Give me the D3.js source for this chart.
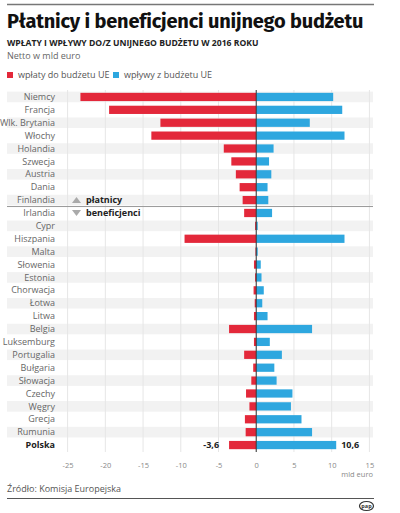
<!DOCTYPE html>
<html><head><meta charset="utf-8">
<script src="https://cdn.jsdelivr.net/npm/d3@7/dist/d3.min.js"></script>
<style>
html,body{margin:0;padding:0;background:#fff;}
svg{display:block;font-family:"Open Sans","Noto Sans",sans-serif;}
</style></head>
<body>
<script>
const countries = ["Niemcy","Francja","Wlk. Brytania","Włochy","Holandia","Szwecja","Austria","Dania","Finlandia","Irlandia","Cypr","Hiszpania","Malta","Słowenia","Estonia","Chorwacja","Łotwa","Litwa","Belgia","Luksemburg","Portugalia","Bułgaria","Słowacja","Czechy","Węgry","Grecja","Rumunia","Polska"];
const payments = [-23.3,-19.5,-12.7,-13.9,-4.3,-3.3,-2.7,-2.2,-1.8,-1.6,-0.15,-9.5,-0.1,-0.3,-0.15,-0.35,-0.2,-0.3,-3.6,-0.3,-1.6,-0.4,-0.65,-1.35,-0.9,-1.5,-1.4,-3.6];
const receipts = [10.2,11.4,7.1,11.7,2.3,1.7,2.0,1.5,1.6,2.1,0.2,11.7,0.2,0.6,0.7,1.0,0.8,1.5,7.4,1.8,3.4,2.4,2.7,4.8,4.6,6.0,7.4,10.6];
const tickValues = [-25,-20,-15,-10,-5,0,5,10,15];
const legendLabels = ["wpłaty do budżetu UE","wpływy z budżetu UE"];
const groupLabels = ["płatnicy","beneficjenci"];

const W = 400, H = 513;
const RED = "#e3283a", BLUE = "#2ea7df";
const svg = d3.select("body").append("svg").attr("width", W).attr("height", H);

const x = d3.scaleLinear().domain([-25, 15]).range([67.6, 369.4]);
const y = d3.scaleBand().domain(countries).range([90.5, 451.5]).paddingInner(0.36).paddingOuter(0.18);

// top rule
svg.append("line").attr("x1", 7).attr("x2", 374).attr("y1", 4.5).attr("y2", 4.5).attr("stroke", "#777").attr("stroke-width", 1.5);

svg.append("text").attr("x", 7).attr("y", 27.5).attr("font-size", 20).attr("font-weight", 700).attr("fill", "#111")
  .attr("font-family", "'Fira Sans','Open Sans',sans-serif").attr("letter-spacing", -0.2)
  .text("Płatnicy i beneficjenci unijnego budżetu");
svg.append("text").attr("x", 7).attr("y", 46).attr("font-size", 8.6).attr("font-weight", 700).attr("fill", "#222")
  .text("WPŁATY I WPŁYWY DO/Z UNIJNEGO BUDŻETU W 2016 ROKU");
svg.append("text").attr("x", 7).attr("y", 58.5).attr("font-size", 9).attr("fill", "#666").text("Netto w mld euro");

// legend
const leg = [{c: RED, x: 7, t: legendLabels[0]}, {c: BLUE, x: 113, t: legendLabels[1]}];
leg.forEach(l => {
  svg.append("rect").attr("x", l.x).attr("y", 72).attr("width", 6).attr("height", 6).attr("fill", l.c);
  svg.append("text").attr("x", l.x + 11).attr("y", 78).attr("font-size", 9).attr("fill", "#555").text(l.t);
});

// stripes
svg.append("g").selectAll("rect").data(countries.filter((d, i) => i % 2 === 0)).join("rect")
  .attr("x", 7).attr("width", 366)
  .attr("y", d => y(d) + y.bandwidth() / 2 - 5.3).attr("height", 10.6)
  .attr("fill", "#f2f2f2");

// grid
svg.append("g").selectAll("line").data(tickValues).join("line")
  .attr("x1", d => x(d)).attr("x2", d => x(d)).attr("y1", 90).attr("y2", 452)
  .attr("stroke", "#e6e6e6").attr("stroke-width", 1);

// separator
const sepY = (y("Finlandia") + y("Irlandia") + y.bandwidth()) / 2;
svg.append("line").attr("x1", 7).attr("x2", 373).attr("y1", sepY).attr("y2", sepY).attr("stroke", "#999").attr("stroke-width", 1);

// bars
const bars = svg.append("g");
bars.selectAll(".neg").data(countries).join("rect").attr("class", "neg")
  .attr("x", (d, i) => x(payments[i])).attr("width", (d, i) => x(0) - x(payments[i]))
  .attr("y", d => y(d)).attr("height", y.bandwidth()).attr("fill", RED);
bars.selectAll(".pos").data(countries).join("rect").attr("class", "pos")
  .attr("x", x(0)).attr("width", (d, i) => x(receipts[i]) - x(0))
  .attr("y", d => y(d)).attr("height", y.bandwidth()).attr("fill", BLUE);

// zero line
svg.append("line").attr("x1", x(0)).attr("x2", x(0)).attr("y1", 90).attr("y2", 452).attr("stroke", "#333").attr("stroke-width", 1);

// category labels
svg.append("g").selectAll("text").data(countries).join("text")
  .attr("x", 55).attr("y", d => y(d) + y.bandwidth() / 2).attr("dy", "0.35em")
  .attr("text-anchor", "end").attr("font-size", 9)
  .attr("font-weight", d => d === "Polska" ? 700 : 400)
  .attr("fill", d => d === "Polska" ? "#222" : "#666")
  .text(d => d);

// group markers
const fy = y("Finlandia") + y.bandwidth() / 2, iy = y("Irlandia") + y.bandwidth() / 2;
svg.append("path").attr("d", `M72,${fy + 3} L81,${fy + 3} L76.5,${fy - 3} Z`).attr("fill", "#aaa");
svg.append("path").attr("d", `M72,${iy - 3} L81,${iy - 3} L76.5,${iy + 3} Z`).attr("fill", "#aaa");
svg.append("text").attr("x", 86).attr("y", fy).attr("dy", "0.35em").attr("font-size", 9).attr("font-weight", 700).attr("fill", "#222").text(groupLabels[0]);
svg.append("text").attr("x", 86).attr("y", iy).attr("dy", "0.35em").attr("font-size", 9).attr("font-weight", 700).attr("fill", "#222").text(groupLabels[1]);

// Polska values
const pi = countries.indexOf("Polska");
const py = y("Polska") + y.bandwidth() / 2;
const fmt = v => String(v).replace(".", ",");
svg.append("text").attr("x", x(payments[pi]) - 10).attr("y", py).attr("dy", "0.35em").attr("text-anchor", "end")
  .attr("font-size", 9).attr("font-weight", 700).attr("fill", "#222").text(fmt(payments[pi]));
svg.append("text").attr("x", x(receipts[pi]) + 5).attr("y", py).attr("dy", "0.35em")
  .attr("font-size", 9).attr("font-weight", 700).attr("fill", "#222").text(fmt(receipts[pi]));

// axis
const ax = svg.append("g").attr("transform", "translate(0,461)")
  .call(d3.axisBottom(x).tickValues(tickValues).tickSize(0).tickPadding(0).tickFormat(d => String(d)));
ax.select(".domain").remove();
ax.selectAll("text").attr("font-size", 7.5).attr("fill", "#888").attr("font-family", "'Open Sans',sans-serif").attr("dy", "0.35em").attr("y", 4);
svg.append("text").attr("x", 373).attr("y", 477).attr("text-anchor", "end").attr("font-size", 7.5).attr("fill", "#888").text("mld euro");

// source
svg.append("text").attr("x", 7).attr("y", 492).attr("font-size", 9).attr("fill", "#555").text("Źródło: Komisja Europejska");
svg.append("line").attr("x1", 7).attr("x2", 374).attr("y1", 498.5).attr("y2", 498.5).attr("stroke", "#555").attr("stroke-width", 1);

// logo
svg.append("ellipse").attr("cx", 366.5).attr("cy", 506).attr("rx", 7).attr("ry", 4.5).attr("fill", "#fff").attr("stroke", "#333").attr("stroke-width", 1.2);
svg.append("text").attr("x", 366.5).attr("y", 508).attr("text-anchor", "middle").attr("font-size", 5.5).attr("font-weight", 700).attr("fill", "#333").text("pap");
</script>
</body></html>
